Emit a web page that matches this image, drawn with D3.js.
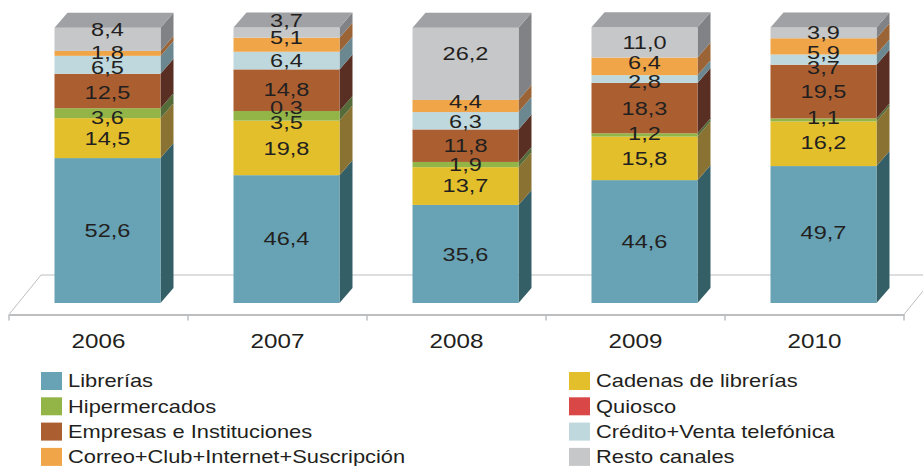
<!DOCTYPE html>
<html>
<head>
<meta charset="utf-8">
<script src="https://cdnjs.cloudflare.com/ajax/libs/d3/7.8.5/d3.min.js"></script>
<style>
  html, body { margin: 0; padding: 0; background: #fff; overflow: hidden; }
  svg { display: block; }
  text { font-family: "Liberation Sans", sans-serif; fill: #231f20; }
</style>
</head>
<body>
<div id="chart"></div>
<script>
const years = ["2006", "2007", "2008", "2009", "2010"];
const channels = ["Librerías", "Cadenas de librerías", "Hipermercados", "Quiosco",
  "Empresas e Instituciones", "Crédito+Venta telefónica", "Correo+Club+Internet+Suscripción", "Resto canales"];

const librerias = [52.6, 46.4, 35.6, 44.6, 49.7];
const cadenas = [14.5, 19.8, 13.7, 15.8, 16.2];
const hipermercados = [3.6, 3.5, 1.9, 1.2, 1.1];
const quiosco = [0, 0.3, 0, 0, 0];
const empresas = [12.5, 14.8, 11.8, 18.3, 19.5];
const credito = [6.5, 6.4, 6.3, 2.8, 3.7];
const correo = [1.8, 5.1, 4.4, 6.4, 5.9];
const resto = [8.4, 3.7, 26.2, 11.0, 3.9];

const seriesValues = [librerias, cadenas, hipermercados, quiosco, empresas, credito, correo, resto];

const frontColors = ["#67a3b5", "#e3bf2b", "#93b548", "#d94747", "#ab5f30", "#bfd8de", "#f0a648", "#c6c7c9"];
const sideColors = ["#355f66", "#8a7232", "#566b3a", "#6e2b2b", "#592f23", "#6b8790", "#9a6437", "#808285"];
const topColor = "#a0a1a4";

// the original labels don't sit in the centre of their segment, they were moved by hand
const labelNudge = [
  [0, -1, 0, 0, -2.5],
  [0, 0, -1, 0, -1.5],
  [4, 7, 0, -2, -3],
  [0, -3.7, 0, 0, 0],
  [1, 0, 0, 0, 0],
  [3, 0, 1, 2, 8],
  [-1, -7, -5, -4, 5.5],
  [-10.5, -12.7, -11, 0, -1]
];

const width = 923, height = 466;
const depthX = 13, depthY = 15;
const minVisible = 0.5; // thinner segments keep their label but no colour band, as in the original

const svg = d3.select("#chart").append("svg")
  .attr("width", width)
  .attr("height", height);

const table = years.map((year, i) => {
  const row = { year };
  channels.forEach((c, s) => { row[c] = seriesValues[s][i]; });
  return row;
});
const stacked = d3.stack().keys(channels)(table);

const x = d3.scaleBand().domain(years).range([9, 904]);
const y = d3.scaleLinear().domain([0, 100]).range([303, 27.5]);
const barWidth = 106;
const barX = (year) => x(year) + (x.bandwidth() - barWidth) / 2 + 9;

// top of the last visible segment under layer s, so a hidden segment leaves no gap
function visibleBase(s, i) {
  for (let k = s - 1; k >= 0; k--) {
    if (seriesValues[k][i] >= minVisible) return stacked[k][i][1];
  }
  return 0;
}

// the original is stretched sideways, so the text is too
const stretch = (px, py, k) => `translate(${px},${py}) scale(${k},1)`;

// floor of the 3D box
const floorY = 314.5, floorBackY = 275, floorDx = 32;
const floor = svg.append("g").attr("fill", "none").attr("stroke", "#bcbec0");
floor.append("line").attr("x1", 9 + floorDx).attr("x2", 904 + floorDx).attr("y1", floorBackY).attr("y2", floorBackY);
floor.append("line").attr("x1", 9).attr("x2", 9 + floorDx).attr("y1", floorY).attr("y2", floorBackY);
floor.append("line").attr("x1", 904).attr("x2", 904 + floorDx).attr("y1", floorY).attr("y2", floorBackY);

// Add X axis
const axis = svg.append("g")
  .attr("transform", `translate(0, ${floorY})`)
  .call(d3.axisBottom(x).tickSize(0).tickPadding(19));
axis.select(".domain").attr("stroke", "#bcbec0").attr("stroke-width", 2);
axis.selectAll(".tick text")
  .attr("font-size", 20.5)
  .attr("transform", "scale(1.18,1)")
  .style("font-family", '"Liberation Sans", sans-serif')
  .attr("fill", "#231f20");
axis.selectAll(".boundary")
  .data(d3.range(years.length + 1))
  .join("line")
  .attr("x1", (d) => x.range()[0] + d * x.step())
  .attr("x2", (d) => x.range()[0] + d * x.step())
  .attr("y1", 0)
  .attr("y2", 6)
  .attr("stroke", "#bcbec0")
  .attr("stroke-width", 1.5);

// Bars
const layers = svg.append("g")
  .selectAll("g")
  .data(stacked)
  .join("g");

layers.each(function (layer, s) {
  const shown = layer.map((d, i) => ({ d, i, base: visibleBase(s, i) }))
    .filter((e) => seriesValues[s][e.i] >= minVisible);

  d3.select(this).selectAll(".side")
    .data(shown)
    .join("polygon")
    .attr("class", "side")
    .attr("fill", sideColors[s])
    .attr("points", (e) => {
      const xr = barX(e.d.data.year) + barWidth;
      return `${xr},${y(e.base)} ${xr + depthX},${y(e.base) - depthY} ${xr + depthX},${y(e.d[1]) - depthY} ${xr},${y(e.d[1])}`;
    });

  d3.select(this).selectAll(".front")
    .data(shown)
    .join("rect")
    .attr("class", "front")
    .attr("x", (e) => barX(e.d.data.year))
    .attr("y", (e) => y(e.d[1]))
    .attr("width", barWidth)
    .attr("height", (e) => y(e.base) - y(e.d[1]))
    .attr("fill", frontColors[s]);
});

// Top of each bar
svg.append("g")
  .selectAll("polygon")
  .data(stacked[stacked.length - 1])
  .join("polygon")
  .attr("fill", topColor)
  .attr("points", (d) => {
    const xl = barX(d.data.year), t = y(d[1]);
    return `${xl},${t} ${xl + depthX},${t - depthY} ${xl + barWidth + depthX},${t - depthY} ${xl + barWidth},${t}`;
  });

// Value labels
const fmt = (v) => v.toFixed(1).replace(".", ",");
stacked.forEach((layer, s) => {
  svg.append("g")
    .selectAll("text")
    .data(layer.map((d, i) => ({ d, i })).filter((e) => e.d[1] > e.d[0]))
    .join("text")
    .attr("transform", (e) => stretch(barX(e.d.data.year) + barWidth / 2,
      y((e.d[0] + e.d[1]) / 2) + labelNudge[s][e.i], 1.24))
    .attr("dy", "0.35em")
    .attr("text-anchor", "middle")
    .attr("font-size", 19)
    .text((e) => fmt(seriesValues[s][e.i]));
});

// Legend, two columns
const legend = svg.append("g")
  .selectAll("g")
  .data(channels)
  .join("g")
  .attr("transform", (d, i) => `translate(${i % 2 ? 569 : 41}, ${372 + Math.floor(i / 2) * 25.3})`);

legend.append("rect")
  .attr("width", 21)
  .attr("height", 18)
  .attr("fill", (d, i) => frontColors[i]);

legend.append("text")
  .attr("transform", stretch(27, 9, 1.215))
  .attr("dy", "0.35em")
  .attr("font-size", 18)
  .text((d) => d);
</script>
</body>
</html>
